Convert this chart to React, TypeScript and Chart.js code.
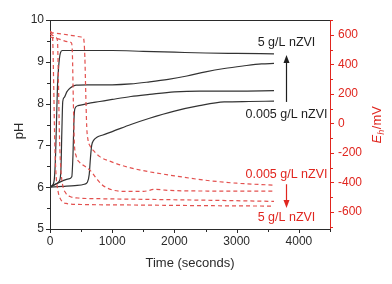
import React, { useEffect, useRef } from 'react';
import { Chart, registerables } from 'chart.js';
Chart.register(...registerables);

const FONT = '"Liberation Sans", Arial, Helvetica, sans-serif';
const AX = '#2a2a2a';
const RED = '#e0261f';
const LINE_BLACK = '#333333';
const LINE_RED = '#e3514f';

// ---- pH series (left axis) ----
const tPH5 = [0, 40, 70, 90, 105, 120, 140, 165, 200, 500, 1000, 1500, 2000, 2500, 3000, 3600];
const pH5 = [6.0, 6.05, 6.2, 6.8, 7.6, 8.4, 8.9, 9.2, 9.27, 9.27, 9.27, 9.25, 9.23, 9.21, 9.2, 9.19];

const tPH05 = [0, 80, 150, 175, 190, 205, 230, 270, 330, 420, 600, 1000, 1300, 1600, 1900, 2200, 2500, 2800, 3100, 3400, 3600];
const pH05 = [6.0, 6.07, 6.15, 6.4, 7.3, 8.05, 8.15, 8.28, 8.38, 8.44, 8.45, 8.45, 8.47, 8.52, 8.58, 8.66, 8.76, 8.84, 8.9, 8.95, 8.96];

const tPH005 = [0, 100, 200, 300, 350, 370, 385, 400, 450, 600, 800, 1000, 1300, 1600, 2000, 2400, 3000, 3600];
const pH005 = [6.0, 6.08, 6.15, 6.2, 6.25, 6.8, 7.6, 7.88, 7.95, 8.0, 8.05, 8.1, 8.17, 8.22, 8.28, 8.3, 8.3, 8.31];

const tPH0005 = [0, 200, 400, 550, 600, 630, 650, 670, 700, 760, 850, 1000, 1300, 1600, 2000, 2400, 2800, 3200, 3600];
const pH0005 = [6.0, 6.02, 6.04, 6.07, 6.12, 6.3, 6.7, 7.0, 7.12, 7.2, 7.25, 7.33, 7.5, 7.65, 7.82, 7.95, 8.04, 8.05, 8.06];

// ---- Eh series (right axis, mV) ----
const tEh0005 = [0, 200, 400, 500, 540, 560, 575, 590, 610, 640, 700, 800, 1000, 1200, 1500, 2000, 2500, 3000, 3600];
const eh0005 = [615, 605, 592, 585, 575, 450, 200, -20, -110, -150, -185, -225, -262, -290, -320, -355, -385, -405, -418];

const tEh005 = [0, 150, 300, 345, 360, 375, 390, 420, 480, 560, 650, 750, 850, 1000, 1200, 1500, 1700, 1850, 2200, 2800, 3600];
const eh005 = [585, 570, 552, 545, 470, 150, -120, -220, -265, -290, -320, -375, -420, -450, -460, -460, -446, -452, -457, -458, -458];

const tEh05 = [0, 60, 100, 120, 135, 150, 170, 200, 250, 320, 450, 800, 1500, 2500, 3600];
const eh05 = [605, 592, 580, 560, 300, -50, -280, -410, -470, -495, -505, -510, -514, -520, -528];

const tEh5 = [0, 30, 45, 60, 75, 95, 130, 180, 260, 500, 1500, 2500, 3600];
const eh5 = [625, 612, 550, 250, -100, -330, -460, -520, -542, -549, -553, -557, -560];

// ---- axes / tick labels ----
const X_MIN = 0, X_MAX = 4500;
const xTicks = [0, 1000, 2000, 3000, 4000];
const xMinorTicks = [500, 1500, 2500, 3500, 4500];
const PH_MIN = 5, PH_MAX = 10;
const pHTicks = [5, 6, 7, 8, 9, 10];
const pHMinorTicks = [5.5, 6.5, 7.5, 8.5, 9.5];
const EH_MIN = -715, EH_MAX = 700;
const ehTicks = [-600, -400, -200, 0, 200, 400, 600];
const ehMinorTicks = [-700, -500, -300, -100, 100, 300, 500, 700];

// ---- annotations (data coordinates) ----
const ANN_X = 3800;
const annPH = { top: 9.45, tip: 9.16, tail: 8.04, bottom: 7.73 };
const annEh = { top: -345, tail: -412, tip: -573, bottom: -640 };

function pts(t: number[], v: number[]) {
  return t.map((x, i) => ({ x, y: v[i] }));
}

function arrow(ctx: CanvasRenderingContext2D, x: number, y0: number, tip: number, color: string) {
  const dir = tip < y0 ? 1 : -1;
  ctx.save();
  ctx.strokeStyle = color;
  ctx.fillStyle = color;
  ctx.lineWidth = 1.2;
  ctx.beginPath();
  ctx.moveTo(x, y0);
  ctx.lineTo(x, tip + dir * 5);
  ctx.stroke();
  ctx.beginPath();
  ctx.moveTo(x, tip);
  ctx.lineTo(x - 3, tip + dir * 8);
  ctx.lineTo(x + 3, tip + dir * 8);
  ctx.closePath();
  ctx.fill();
  ctx.restore();
}

const decor = {
  id: 'decor',
  afterDraw(chart: any) {
    const ctx: CanvasRenderingContext2D = chart.ctx;
    const { left, right, top, bottom } = chart.chartArea;
    const xs = chart.scales.x, ys = chart.scales.y, rs = chart.scales.y1;
    ctx.save();
    ctx.lineWidth = 1;
    ctx.strokeStyle = AX;
    ctx.beginPath();
    ctx.moveTo(left, top + 0.5);
    ctx.lineTo(right, top + 0.5);
    const xt = (v: number, len: number) => {
      const p = Math.round(xs.getPixelForValue(v)) + 0.5;
      ctx.moveTo(p, bottom); ctx.lineTo(p, bottom + len);
    };
    xTicks.forEach((v) => xt(v, 4));
    xMinorTicks.forEach((v) => xt(v, 3));
    const yt = (v: number, len: number) => {
      const p = Math.round(ys.getPixelForValue(v)) + 0.5;
      ctx.moveTo(left, p); ctx.lineTo(left - len, p);
    };
    pHTicks.forEach((v) => yt(v, 4));
    pHMinorTicks.forEach((v) => yt(v, 3));
    ctx.stroke();
    ctx.strokeStyle = RED;
    ctx.beginPath();
    const rt = (v: number, len: number) => {
      const p = Math.round(rs.getPixelForValue(v)) + 0.5;
      ctx.moveTo(right, p); ctx.lineTo(right + len, p);
    };
    ehTicks.forEach((v) => rt(v, 4));
    ehMinorTicks.forEach((v) => rt(v, 3));
    ctx.stroke();

    // axis titles
    ctx.textAlign = 'center';
    ctx.textBaseline = 'middle';
    ctx.fillStyle = AX;
    ctx.font = `13px ${FONT}`;
    ctx.fillText('Time (seconds)', (left + right) / 2, 263);
    ctx.save();
    ctx.translate(19, 131);
    ctx.rotate(-Math.PI / 2);
    ctx.fillText('pH', 0, 0);
    ctx.restore();

    // Eh/mV
    ctx.save();
    ctx.translate(377, 125);
    ctx.rotate(-Math.PI / 2);
    ctx.fillStyle = RED;
    const fE = `italic 13px ${FONT}`, fh = `italic 9px ${FONT}`, fm = `13px ${FONT}`;
    ctx.font = fE; const wE = ctx.measureText('E').width;
    ctx.font = fh; const wh = ctx.measureText('h').width;
    ctx.font = fm; const wm = ctx.measureText('/mV').width;
    let cx = -(wE + wh + wm) / 2;
    ctx.textAlign = 'left';
    ctx.font = fE; ctx.fillText('E', cx, 0); cx += wE;
    ctx.font = fh; ctx.fillText('h', cx, 4); cx += wh;
    ctx.font = fm; ctx.fillText('/mV', cx + 0.5, 0);
    ctx.restore();

    // annotations
    const ax = Math.round(xs.getPixelForValue(ANN_X)) + 0.5;
    ctx.textAlign = 'center';
    ctx.font = `12.5px ${FONT}`;
    ctx.fillStyle = '#1e1e1e';
    ctx.fillText('5 g/L nZVI', ax, ys.getPixelForValue(annPH.top));
    ctx.fillText('0.005 g/L nZVI', ax, ys.getPixelForValue(annPH.bottom));
    arrow(ctx, ax, ys.getPixelForValue(annPH.tail), ys.getPixelForValue(annPH.tip), '#1e1e1e');
    ctx.fillStyle = RED;
    ctx.fillText('0.005 g/L nZVI', ax, rs.getPixelForValue(annEh.top));
    ctx.fillText('5 g/L nZVI', ax, rs.getPixelForValue(annEh.bottom));
    arrow(ctx, ax, rs.getPixelForValue(annEh.tail), rs.getPixelForValue(annEh.tip), RED);
    ctx.restore();
  },
};

export default function App() {
  const ref = useRef<HTMLCanvasElement>(null);
  useEffect(() => {
    document.body.style.margin = '0';
    const blk = (t: number[], v: number[]) => ({
      data: pts(t, v), yAxisID: 'y', borderColor: LINE_BLACK, borderWidth: 1.2,
      pointRadius: 0, fill: false, cubicInterpolationMode: 'monotone' as const,
    });
    const red = (t: number[], v: number[]) => ({
      data: pts(t, v), yAxisID: 'y1', borderColor: LINE_RED, borderWidth: 1.2,
      borderDash: [4, 3], pointRadius: 0, fill: false, cubicInterpolationMode: 'monotone' as const,
    });
    const tickFont = { family: FONT, size: 12 };
    const setTicks = (vals: number[]) => (s: any) => { s.ticks = vals.map((value) => ({ value })); };
    const chart = new Chart(ref.current!, {
      type: 'line',
      data: {
        datasets: [
          red(tEh0005, eh0005), red(tEh005, eh005), red(tEh05, eh05), red(tEh5, eh5),
          blk(tPH5, pH5), blk(tPH05, pH05), blk(tPH005, pH005), blk(tPH0005, pH0005),
        ] as any,
      },
      options: {
        animation: false,
        responsive: false,
        devicePixelRatio: 1,
        layout: { padding: { top: 20, left: 0, right: 0, bottom: 0 } },
        plugins: { legend: { display: false }, tooltip: { enabled: false } },
        scales: {
          x: {
            type: 'linear', min: X_MIN, max: X_MAX,
            afterBuildTicks: setTicks(xTicks),
            afterFit: (s: any) => { s.height = 55; },
            ticks: { font: tickFont, color: AX, padding: 5, maxRotation: 0, autoSkip: false, callback: (v: any) => String(v) },
            grid: { display: false, drawTicks: false },
            border: { display: true, color: AX, width: 1 },
          },
          y: {
            type: 'linear', position: 'left', min: PH_MIN, max: PH_MAX,
            afterBuildTicks: setTicks(pHTicks),
            afterFit: (s: any) => { s.width = 50; },
            ticks: { font: tickFont, color: AX, padding: 6, autoSkip: false, callback: (v: any) => String(v) },
            grid: { display: false, drawTicks: false },
            border: { display: true, color: AX, width: 1 },
          },
          y1: {
            type: 'linear', position: 'right', min: EH_MIN, max: EH_MAX,
            afterBuildTicks: setTicks(ehTicks),
            afterFit: (s: any) => { s.width = 62; },
            ticks: { font: tickFont, color: RED, padding: 8, autoSkip: false, callback: (v: any) => String(v) },
            grid: { display: false, drawTicks: false },
            border: { display: true, color: RED, width: 1 },
          },
        },
      } as any,
      plugins: [decor],
    });
    return () => chart.destroy();
  }, []);
  return (
    <div style={{ width: 392, height: 284 }}>
      <canvas ref={ref} width={392} height={284} style={{ display: 'block' }} />
    </div>
  );
}
